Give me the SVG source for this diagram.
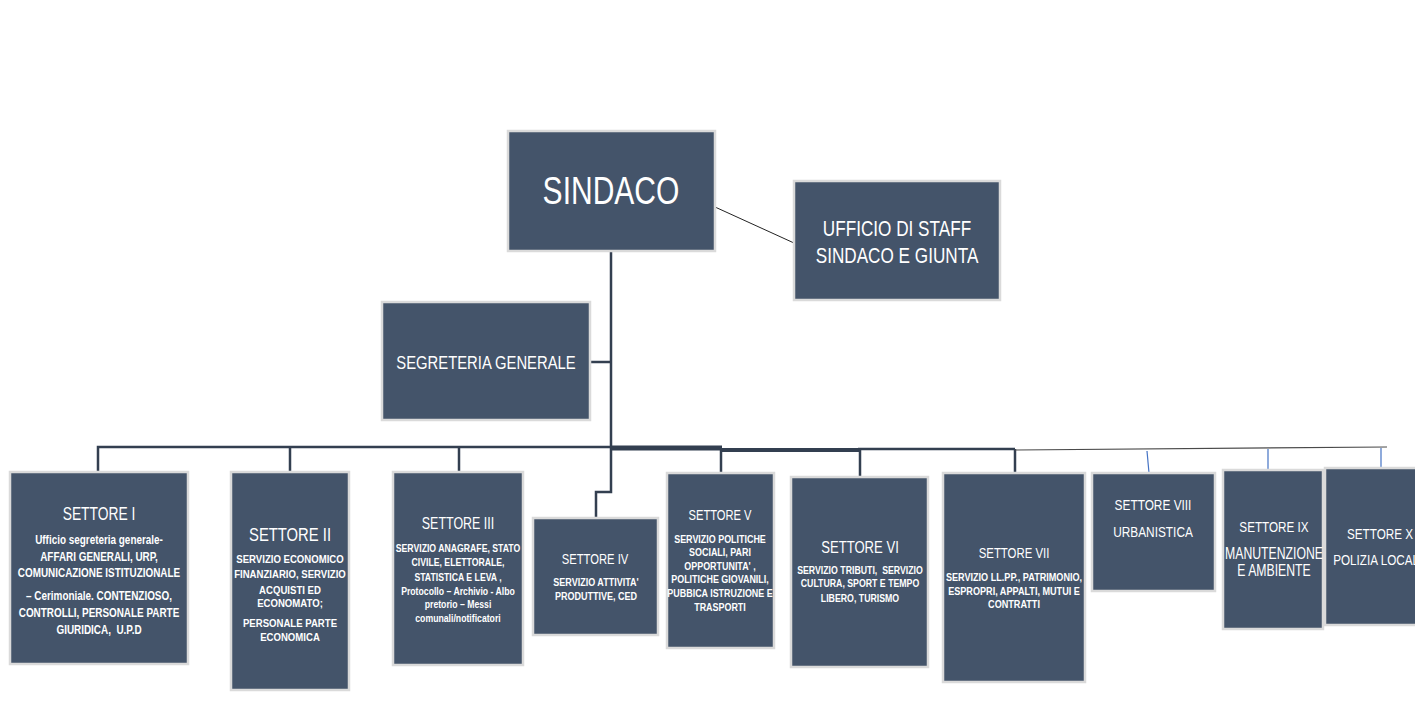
<svg xmlns="http://www.w3.org/2000/svg" width="1415" height="702" viewBox="0 0 1415 702">
<style>
.box{fill:#44546a;stroke:#dadada;stroke-width:2.5}
text{font-family:"Liberation Sans",Arial,sans-serif;fill:#ffffff;text-anchor:middle}
.bd text{font-weight:bold}
.ln{fill:none;stroke:#333f50;stroke-width:2.5}
.thin{fill:none;stroke:#4a4a4a;stroke-width:1.2}
.blue{fill:none;stroke:#4472c4;stroke-width:1.2}
</style>
<rect width="1415" height="702" fill="#ffffff"/>
<g id="connectors">
<path class="ln" d="M611 251 V492 H596 V518"/>
<path class="ln" d="M590 362 H611"/>
<path class="ln" d="M98 472 V447 H612"/>
<path class="ln" d="M290 447 V472"/>
<path class="ln" d="M459 447 V472"/>
<path class="ln" d="M612 448 H722" style="stroke-width:5"/>
<path class="ln" d="M720 450 H860" style="stroke-width:4"/>
<path class="ln" d="M858 449 H1015"/>
<path class="ln" d="M721 450 V473"/>
<path class="ln" d="M860 449 V477"/>
<path class="ln" d="M1015 449 V474"/>
<path class="thin" d="M1015 450 L1387 447"/>
<path class="blue" d="M1147 451 L1149 473"/>
<path class="blue" d="M1268 449 V470"/>
<path class="blue" d="M1381 448 V468"/>
<path d="M715 207 L794 243" fill="none" stroke="#222" stroke-width="1"/>
</g>
<g id="sindaco">
<rect class="box" x="508" y="131" width="207" height="120"/>
<g transform="translate(611 0) scale(0.78 1)"><text y="204" font-size="38.5">SINDACO</text></g>
</g>
<g id="staff">
<rect class="box" x="794" y="181" width="206" height="119"/>
<g transform="translate(897 0) scale(0.78 1)" font-size="22"><text y="236">UFFICIO DI STAFF</text><text y="263">SINDACO E GIUNTA</text></g>
</g>
<g id="segreteria">
<rect class="box" x="382" y="302" width="208" height="118"/>
<g transform="translate(486 0) scale(0.78 1)"><text y="369" font-size="19">SEGRETERIA GENERALE</text></g>
</g>
<g id="settore-1">
<rect class="box" x="10" y="472" width="178" height="192"/>
<g transform="translate(99 0) scale(0.78 1)"><text y="520" font-size="17.7">SETTORE I</text></g>
<g class="bd" transform="translate(99 0) scale(0.82 1)" font-size="12.1">
<text y="544.5">Ufficio segreteria generale-</text>
<text y="561.5">AFFARI GENERALI, URP,</text>
<text y="577.5">COMUNICAZIONE ISTITUZIONALE</text>
<text y="600.5">– Cerimoniale. CONTENZIOSO,</text>
<text y="617.5">CONTROLLI, PERSONALE PARTE</text>
<text y="634.5" xml:space="preserve">GIURIDICA,  U.P.D</text>
</g>
</g>
<g id="settore-2">
<rect class="box" x="231" y="472" width="118" height="218"/>
<g transform="translate(290 0) scale(0.78 1)"><text y="541" font-size="19">SETTORE II</text></g>
<g class="bd" transform="translate(290 0) scale(0.82 1)" font-size="11.7">
<text y="563.5">SERVIZIO ECONOMICO</text>
<text y="578.5">FINANZIARIO, SERVIZIO</text>
<text y="594.5">ACQUISTI ED</text>
<text y="607.5">ECONOMATO;</text>
<text y="627.5">PERSONALE PARTE</text>
<text y="641.5">ECONOMICA</text>
</g>
</g>
<g id="settore-3">
<rect class="box" x="393" y="472" width="130" height="193"/>
<g transform="translate(458 0) scale(0.78 1)"><text y="529" font-size="16">SETTORE III</text></g>
<g class="bd" transform="translate(458 0) scale(0.82 1)" font-size="10.6">
<text y="552">SERVIZIO ANAGRAFE, STATO</text>
<text y="566">CIVILE, ELETTORALE,</text>
<text y="581">STATISTICA E LEVA ,</text>
<text y="595">Protocollo – Archivio - Albo</text>
<text y="608">pretorio – Messi</text>
<text y="622">comunali/notificatori</text>
</g>
</g>
<g id="settore-4">
<rect class="box" x="533" y="518" width="125" height="117"/>
<g transform="translate(595 0) scale(0.78 1)"><text y="564" font-size="14.4">SETTORE IV</text></g>
<g class="bd" transform="translate(596 0) scale(0.82 1)" font-size="11">
<text y="586">SERVIZIO ATTIVITA'</text>
<text y="600">PRODUTTIVE, CED</text>
</g>
</g>
<g id="settore-5">
<rect class="box" x="667" y="473" width="107" height="175"/>
<g transform="translate(720 0) scale(0.78 1)"><text y="520" font-size="14.3">SETTORE V</text></g>
<g class="bd" transform="translate(720 0) scale(0.82 1)" font-size="10.9">
<text y="543">SERVIZIO POLITICHE</text>
<text y="556.5">SOCIALI, PARI</text>
<text y="570">OPPORTUNITA' ,</text>
<text y="583.5">POLITICHE GIOVANILI,</text>
<text y="597">PUBBICA ISTRUZIONE E</text>
<text y="611">TRASPORTI</text>
</g>
</g>
<g id="settore-6">
<rect class="box" x="791" y="477" width="137" height="190"/>
<g transform="translate(860 0) scale(0.78 1)"><text y="553" font-size="16.8">SETTORE VI</text></g>
<g class="bd" transform="translate(860 0) scale(0.82 1)" font-size="10.7">
<text y="574" xml:space="preserve">SERVIZIO TRIBUTI,  SERVIZIO</text>
<text y="587.5">CULTURA, SPORT E TEMPO</text>
<text y="602">LIBERO, TURISMO</text>
</g>
</g>
<g id="settore-7">
<rect class="box" x="943" y="473" width="142" height="209"/>
<g transform="translate(1014 0) scale(0.78 1)"><text y="558" font-size="14.6">SETTORE VII</text></g>
<g class="bd" transform="translate(1014 0) scale(0.82 1)" font-size="11.1">
<text y="581.5">SERVIZIO LL.PP., PATRIMONIO,</text>
<text y="595.5">ESPROPRI, APPALTI, MUTUI E</text>
<text y="608.5">CONTRATTI</text>
</g>
</g>
<g id="settore-8">
<rect class="box" x="1092" y="473" width="123" height="118"/>
<g transform="translate(1153 0) scale(0.78 1)" font-size="15.2"><text y="510">SETTORE VIII</text><text y="537">URBANISTICA</text></g>
</g>
<g id="settore-9">
<rect class="box" x="1223" y="470" width="100" height="159"/>
<g transform="translate(1274 0) scale(0.78 1)" font-size="15"><text y="532">SETTORE IX</text><text y="559" font-size="15.7">MANUTENZIONE</text><text y="576" font-size="15.7">E AMBIENTE</text></g>
</g>
<g id="settore-10">
<rect class="box" x="1325" y="468" width="100" height="157"/>
<g transform="translate(1380 0) scale(0.78 1)" font-size="15"><text y="539">SETTORE X</text><text y="565">POLIZIA LOCALE</text></g>
</g>
</svg>
